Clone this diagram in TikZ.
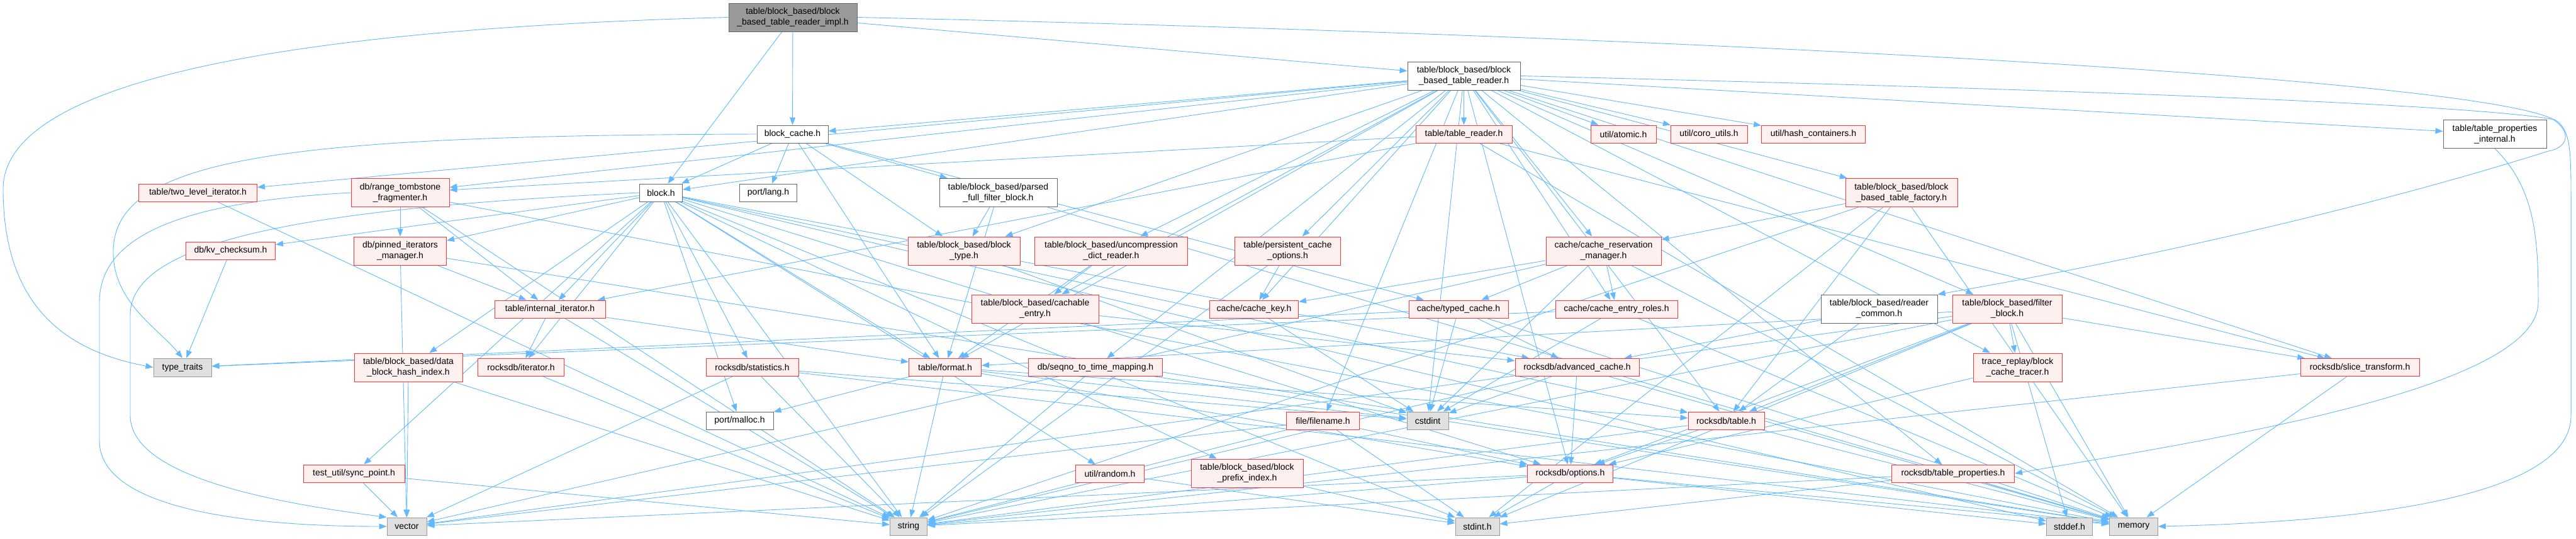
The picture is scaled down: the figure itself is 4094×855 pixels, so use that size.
\documentclass[tikz,border=0pt]{standalone}
\usepackage{fontspec}
\setmainfont{Liberation Sans}
\usetikzlibrary{arrows.meta}
\definecolor{edgec}{HTML}{63B8FF}
\definecolor{redfill}{HTML}{FFF0F0}
\definecolor{leaffill}{HTML}{E0E0E0}
\definecolor{leafdraw}{HTML}{999999}
\definecolor{whitedraw}{HTML}{666666}
\definecolor{implfill}{HTML}{999999}
\definecolor{rededge}{HTML}{FF3333}
\pgfdeclarelayer{edges}
\pgfsetlayers{edges,main}
\tikzset{
  base/.style={rectangle, inner sep=1pt, line width=1pt, font=\fontsize{14}{17}\selectfont, align=center, text=black},
  redn/.style={base, draw=rededge, fill=redfill},
  whiten/.style={base, draw=whitedraw, fill=white},
  leafn/.style={base, draw=leafdraw, fill=leaffill},
  impln/.style={base, draw=whitedraw, fill=implfill},
  sz/.style 2 args={minimum width=#1pt, minimum height=#2pt},
  dep/.style={draw=edgec, line width=0.9pt, -{Triangle[length=12pt,width=9pt]}, color=edgec},
}
\begin{document}
\begin{tikzpicture}[x=1pt,y=-1pt]
\useasboundingbox (0,0) rectangle (4094,855);
% row 0
\node[impln, sz={204}{45}] (impl) at (1260,27.5) {table/block\_based/block\\\_based\_table\_reader\_impl.h};
\node[whiten, sz={179}{45}] (bbtr) at (2326.5,120.5) {table/block\_based/block\\\_based\_table\_reader.h};
% row 2
\node[whiten, sz={113}{28}] (bcache) at (1259.5,213) {block\_cache.h};
\node[redn, sz={153}{28}] (treader) at (2326.5,213) {table/table\_reader.h};
\node[redn, sz={104}{28}] (atomic) at (2580,213) {util/atomic.h};
\node[redn, sz={122}{28}] (coro) at (2716,213) {util/coro\_utils.h};
\node[redn, sz={165}{28}] (hashc) at (2882,213) {util/hash\_containers.h};
\node[whiten, sz={164}{45}] (tpi) at (3965,213) {table/table\_properties\\\_internal.h};
% row 3
\node[redn, sz={188}{28}] (twolevel) at (314.5,306) {table/two\_level\_iterator.h};
\node[redn, sz={156}{45}] (rtf) at (636,306) {db/range\_tombstone\\\_fragmenter.h};
\node[whiten, sz={68}{28}] (block) at (1050.5,306) {block.h};
\node[whiten, sz={91}{28}] (lang) at (1221,306) {port/lang.h};
\node[whiten, sz={187}{45}] (parsed) at (1586.5,306) {table/block\_based/parsed\\\_full\_filter\_block.h};
\node[redn, sz={178}{45}] (factory) at (3022,306) {table/block\_based/block\\\_based\_table\_factory.h};
% row 4
\node[redn, sz={142}{28}] (kv) at (366.5,398) {db/kv\_checksum.h};
\node[redn, sz={147}{45}] (pinned) at (636,398.5) {db/pinned\_iterators\\\_manager.h};
\node[redn, sz={178}{45}] (btype) at (1532,398.5) {table/block\_based/block\\\_type.h};
\node[redn, sz={243}{45}] (uncomp) at (1766,398.5) {table/block\_based/uncompression\\\_dict\_reader.h};
\node[redn, sz={168}{45}] (persist) at (2046.5,398.5) {table/persistent\_cache\\\_options.h};
\node[redn, sz={183}{45}] (crm) at (2548.5,398.5) {cache/cache\_reservation\\\_manager.h};
% row 5
\node[redn, sz={176}{28}] (iiter) at (874,491) {table/internal\_iterator.h};
\node[redn, sz={202}{45}] (cachable) at (1645,490.5) {table/block\_based/cachable\\\_entry.h};
\node[redn, sz={141}{28}] (ckey) at (1993,491) {cache/cache\_key.h};
\node[redn, sz={158}{28}] (typed) at (2318,491) {cache/typed\_cache.h};
\node[redn, sz={194}{28}] (cer) at (2569,491) {cache/cache\_entry\_roles.h};
\node[whiten, sz={185}{45}] (rcommon) at (2986.5,490.5) {table/block\_based/reader\\\_common.h};
\node[redn, sz={174}{45}] (filter) at (3190,490.5) {table/block\_based/filter\\\_block.h};
% row 6
\node[leafn, sz={92}{29}] (ttraits) at (290,583.5) {type\_traits};
\node[redn, sz={172}{45}] (dbhi) at (649,583.5) {table/block\_based/data\\\_block\_hash\_index.h};
\node[redn, sz={137}{28}] (iter) at (828,583.5) {rocksdb/iterator.h};
\node[redn, sz={147}{28}] (stats) at (1195.5,583.5) {rocksdb/statistics.h};
\node[redn, sz={115}{28}] (format) at (1502,583.5) {table/format.h};
\node[redn, sz={213}{28}] (seqno) at (1741,583.5) {db/seqno\_to\_time\_mapping.h};
\node[redn, sz={197}{28}] (acache) at (2506.5,583.5) {rocksdb/advanced\_cache.h};
\node[redn, sz={141}{45}] (tracer) at (3206.5,583.5) {trace\_replay/block\\\_cache\_tracer.h};
\node[redn, sz={189}{28}] (stransform) at (3750.5,583.5) {rocksdb/slice\_transform.h};
% row 7
\node[whiten, sz={107}{28}] (malloc) at (1175.5,668) {port/malloc.h};
\node[redn, sz={116}{28}] (filename) at (2102.5,668) {file/filename.h};
\node[leafn, sz={66}{28}] (cstdint) at (2269,668) {cstdint};
\node[redn, sz={121}{28}] (rtable) at (2743.5,668) {rocksdb/table.h};
% row 8
\node[redn, sz={161}{28}] (sync) at (562.5,752) {test\_util/sync\_point.h};
\node[redn, sz={109}{28}] (random) at (1764,752) {util/random.h};
\node[redn, sz={178}{45}] (prefix) at (1982,751.5) {table/block\_based/block\\\_prefix\_index.h};
\node[redn, sz={136}{28}] (options) at (2495.5,752) {rocksdb/options.h};
\node[redn, sz={195}{28}] (tprops) at (3104,752) {rocksdb/table\_properties.h};
% row 9
\node[leafn, sz={63}{28}] (vector) at (646.5,836) {vector};
\node[leafn, sz={59}{28}] (string) at (1444,836) {string};
\node[leafn, sz={70}{28}] (stdinth) at (2348,836) {stdint.h};
\node[leafn, sz={73}{28}] (stddefh) at (3289,836) {stddef.h};
\node[leafn, sz={77}{28}] (memory) at (3391,836) {memory};

\begin{pgfonlayer}{edges}
\foreach \s/\t in {
 impl/bbtr, impl/block, impl/bcache,
 bbtr/treader, bbtr/atomic, bbtr/coro, bbtr/hashc, bbtr/tpi, bbtr/factory, bbtr/crm, bbtr/persist,
 bbtr/uncomp, bbtr/btype, bbtr/bcache, bbtr/block, bbtr/rtf, bbtr/twolevel, bbtr/cachable, bbtr/ckey,
 bbtr/cer, bbtr/filter, bbtr/format, bbtr/seqno, bbtr/filename, bbtr/stransform, bbtr/tprops,
 bbtr/tracer, bbtr/cstdint, bbtr/rtable, bbtr/options,
 bcache/block, bcache/lang, bcache/format, bcache/parsed, bcache/btype, bcache/typed,
 parsed/btype, parsed/format, parsed/memory,
 block/kv, block/pinned, block/malloc, block/acache, block/iter, block/options, block/stats, block/rtable,
 block/prefix, block/dbhi, block/format, block/iiter, block/sync, block/random, block/stddefh,
 block/stdinth, block/string,
 treader/rtf, treader/iiter, treader/stransform, treader/memory,
 factory/crm, factory/rtable, factory/stdinth, factory/memory, factory/string,
 crm/cer, crm/ckey, crm/typed, crm/cstdint, crm/memory, crm/vector,
 typed/acache, typed/memory, typed/ttraits, typed/cstdint,
 cer/cstdint, cer/memory, cer/ttraits,
 ckey/cstdint, cachable/acache, uncomp/cachable, uncomp/format,
 persist/ckey, persist/string, rcommon/rtable, rcommon/acache,
 filter/stddefh, filter/stdinth, filter/memory, filter/string, filter/vector, filter/options,
 filter/stransform, filter/rtable, filter/format, filter/tracer,
 tracer/options,
 acache/cstdint, acache/options, acache/memory, acache/string,
 options/stddefh, options/stdinth, options/memory, options/string, options/vector,
 rtable/options, rtable/memory, rtable/string,
 tprops/stdinth, tprops/memory, tprops/string,
 stransform/memory, stransform/string,
 stats/cstdint, stats/memory, stats/string, stats/vector,
 iter/string, iiter/iter, iiter/string, iiter/format,
 pinned/iiter, pinned/memory, pinned/vector,
 rtf/pinned, rtf/iiter, rtf/memory, rtf/string,
 twolevel/string, kv/ttraits, dbhi/string, dbhi/vector, sync/string, sync/vector,
 random/stdinth, prefix/stdinth,
 filename/stdinth, filename/string, filename/vector, filename/options,
 seqno/string, seqno/memory,
 format/cstdint, format/string, format/malloc, format/options, format/rtable,
 btype/cstdint}
 \draw[dep] (\s) -- (\t);
% curved long connectors
\draw[dep] (impl.west) .. controls (500,45) and (5,120) .. (5,300) .. controls (5,500) and (120,560) .. (ttraits.west);
\draw[dep] (bcache.west) .. controls (450,215) and (180,250) .. (180,400) .. controls (180,480) and (250,520) .. (ttraits.north);
\draw[dep] (impl.east) .. controls (2600,55) and (3900,120) .. (4055,188) .. controls (4090,210) and (4080,235) .. (4050,240) .. controls (3700,350) and (3300,430) .. (rcommon.north east);
\draw[dep] (bbtr.east) .. controls (3000,135) and (3900,160) .. (4060,190) .. controls (4086,205) and (4086,240) .. (4086,320) -- (4086,660) .. controls (4086,800) and (3700,830) .. (memory.east);
\draw[dep] (tpi.south) .. controls (4030,300) and (4034,380) .. (4034,480) .. controls (4034,620) and (3500,700) .. (tprops.east);
\draw[dep] (rtf.west) .. controls (300,320) and (158,370) .. (158,480) -- (158,700) .. controls (158,810) and (400,836) .. (vector.west);
\draw[dep] (block.west) .. controls (500,330) and (207,380) .. (207,500) -- (207,660) .. controls (207,760) and (450,800) .. (vector.north west);
\end{pgfonlayer}
\end{tikzpicture}
\end{document}
